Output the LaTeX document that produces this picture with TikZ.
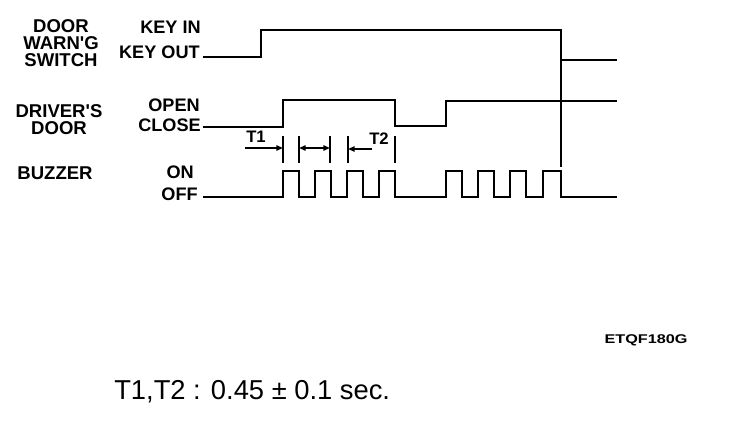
\documentclass[tikz,border=0pt]{standalone}
\usepackage{fontspec}
\setmainfont{Liberation Sans}
\usepackage{graphicx}
\usetikzlibrary{positioning, arrows.meta}

\tikzset{
  signal/.style={line width=1.5pt, line join=miter},
  marker/.style={line width=1.3pt},
  dimarrow/.style={line width=1.2pt, -{Triangle[length=5pt,width=4pt]}},
  grouplabel/.style={font=\bfseries\fontsize{13.9}{12.75}\selectfont, align=center, inner sep=0pt},
  levellabel/.style={font=\bfseries\fontsize{13.6}{14}\selectfont, anchor=east, inner sep=0pt},
  timelabel/.style={font=\bfseries\fontsize{12.5}{12}\selectfont, inner sep=0pt},
}

\begin{document}
\begin{tikzpicture}[x=0.75pt, y=-0.75pt]
  \useasboundingbox (0,0) rectangle (736,424);

  % left hand titles
  \node[grouplabel] (switch) at (61,43) {DOOR\\WARN\textquotesingle G\\SWITCH};
  \node[grouplabel] (door) at (59,119.5) {DRIVER\textquotesingle S\\DOOR};
  \node[grouplabel] (buzzer) at (55,173) {BUZZER};

  % level names
  \node[levellabel] (keyin) at (201,27) {KEY IN};
  \node[levellabel] (keyout) at (200,52.5) {KEY OUT};
  \node[levellabel] (open) at (200,105) {OPEN};
  \node[levellabel] (close) at (201,125) {CLOSE};
  \node[levellabel] (on) at (194,172) {ON};
  \node[levellabel] (off) at (198,194) {OFF};

  \coordinate (ks) at (203,57);
  \coordinate (ds) at (203,127);
  \coordinate (bs) at (203,197);

  % door warning switch
  \draw[signal] (ks) -- (261,57) -- (261,30) -- (561,30) -- (561,60) -- (617,60);
  % driver's door
  \draw[signal] (ds) -- (283,127) -- (283,100) -- (395,100) -- (395,126)
    -- (446,126) -- (446,101) -- (617,101);
  % buzzer
  \draw[signal] (bs)
    foreach \x in {283,315,347,379} { -- (\x,197) -- (\x,171) -- (\x+16,171) -- (\x+16,197) }
    foreach \x in {446,478,510} { -- (\x,197) -- (\x,171) -- (\x+16,171) -- (\x+16,197) }
    -- (543,197) -- (543,171) -- (561,171) -- (561,197) -- (617,197);
  \draw[signal] (561,60) -- (561,167);

  % timing marks
  \foreach \x/\name in {283/ta,299/tb,330/tc,348/td,395/te} {
    \draw[marker] (\x,136) -- (\x,163);
    \coordinate (\name) at (\x,148);
  }
  \coordinate (t1start) at (245,148);
  \coordinate (t2start) at (372,149);
  \draw[dimarrow] (t1start) -- (ta);
  \draw[dimarrow, {Triangle[length=5pt,width=4pt]}-{Triangle[length=5pt,width=4pt]}] (tb) -- (tc);
  \draw[dimarrow] (t2start) -- (td |- t2start);
  \node[timelabel] (t1) at (256,137) {T1};
  \node[timelabel] (t2) at (379,139) {T2};

  % figure code and note
  \node[font=\bfseries\fontsize{9.5}{10}\selectfont, inner sep=0pt] (code) at (646,340) {\scalebox{1.28}[1]{ETQF180G}};
  \node[font=\fontsize{20.5}{22}\selectfont, anchor=west, inner sep=0pt] (note) at (114,392) {T1,T2 : 0.45 ± 0.1 sec.};
\end{tikzpicture}
\end{document}
